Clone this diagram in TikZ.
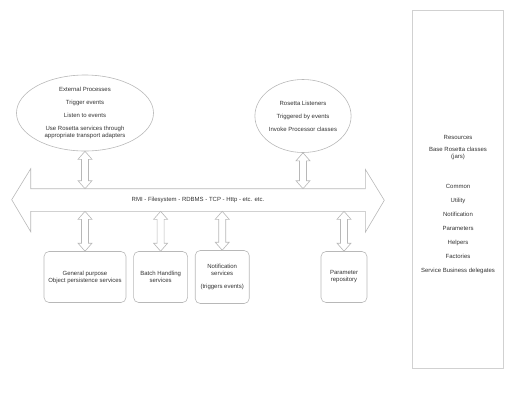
\documentclass[tikz,border=0pt]{standalone}
\usepackage{fontspec}
\setmainfont{Liberation Sans}
\usetikzlibrary{shapes,positioning,calc}

% hollow double arrow between two points, vertical
\newcommand{\dlink}[2]{%
  \draw[link_style] let \p1=(#1), \p2=(#2) in
    (\x1,\y1) -- ++(-7pt,-8pt) -- ++(3.5pt,0pt) -- ({\x1-3.5pt},{\y2+8pt})
    -- ++(-3.5pt,0pt) -- (\x1,\y2) -- ++(7pt,8pt) -- ++(-3.5pt,0pt)
    -- ({\x1+3.5pt},{\y1-8pt}) -- ++(3.5pt,0pt) -- cycle;}

\begin{document}
\begin{tikzpicture}[
    x=1pt, y=-1pt,
    font=\fontsize{6}{7}\selectfont,
    text=black!80,
    line width=0.6pt,
    ellipse_style/.style={draw=black!28, ellipse, inner sep=0pt, align=center},
    box_style/.style={draw=black!28, rectangle, rounded corners=5pt, inner sep=1pt, align=center, minimum height=51pt},
    link_style/.style={draw=black!28, fill=white, line join=miter}
]

\useasboundingbox (0,0) rectangle (516,416);

% transport bus
\node[inner sep=0pt, minimum width=334pt, minimum height=22pt] (bus) at (198,200) {RMI - Filesystem - RDBMS - TCP - Http - etc. etc.};
\draw[draw=black!28] (bus.north east) -- (bus.north west) -- ++(0,-20) -- ++(-19,31) -- ++(19,32)
    -- (bus.south west) -- (bus.south east) -- ++(0,21) -- ++(19,-32) -- ++(-19,-31) -- cycle;

\node[ellipse_style, minimum width=137pt, minimum height=76pt] (ext) at (85,113) {External Processes\\[6pt]Trigger events\\[6pt]Listen to events\\[6pt]Use Rosetta services  through\\appropriate transport  adapters};
\node[ellipse_style, minimum width=96pt, minimum height=73pt] (listen) at (303,116) {Rosetta Listeners\\[6pt]Triggered by events\\[6pt]Invoke Processor classes};

\node[box_style, minimum width=82pt] (persist) at (85,277) {General purpose\\Object persistence services};
\node[box_style, minimum width=54pt, right=7pt of persist] (batch) {Batch Handling\\services};
\node[box_style, minimum width=54pt, minimum height=53pt, right=7pt of batch] (notify) {Notification\\services\\[6pt](triggers events)};
\node[box_style, minimum width=46pt] (param) at (344,277) {Parameter\\repository};

\dlink{ext.south}{ext.south |- bus.north}
\dlink{listen.south}{listen.south |- bus.north}
\foreach \b in {persist,batch,notify,param} {\dlink{\b.north |- bus.south}{\b.north}}

% resources column
\node[draw=black!18, minimum width=91pt, minimum height=358pt, inner sep=0pt] (resbox) at (457.5,189) {};
\node[align=center] (reslist) at (458,205) {Resources\\[5pt]Base Rosetta classes\\(jars)\\[23pt]Common\\[7pt]Utility\\[7pt]Notification\\[7pt]Parameters\\[7pt]Helpers\\[7pt]Factories\\[7pt]Service Business delegates};

\end{tikzpicture}
\end{document}
